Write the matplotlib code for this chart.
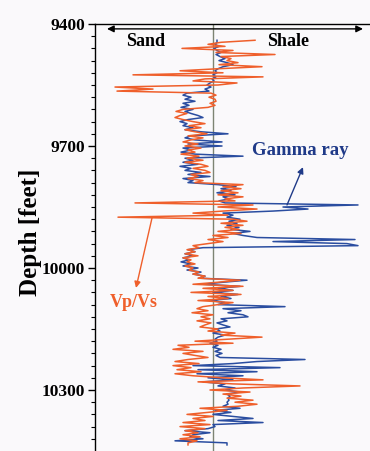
import numpy as np
import matplotlib
matplotlib.use("Agg")
from matplotlib import pyplot as plt
from matplotlib.ticker import FixedLocator

# depth samples (ft) and log deflections from the sand/shale baseline
depth = np.arange(9440, 10440, 5)

vpvs = [
    42, 8, -5, 12, -31, 20, 3, 62, 8, 18,            # 9440
    14, 25, 6, 49, 5, -33, 10, -80, 50, -8,          # 9490
    -20, 24, 5, -98, -60, -96, -2, 3, -4, 2,         # 9540
    3, -3, 2, -5, -30, -37, -26, -33, -38, -30,      # 9590
    -20, -8, -24, -12, -28, -18, -6, -25, -10, -22,  # 9640
    -30, -15, -28, -12, -25, -18, -32, -14, -26, -10,  # 9690
    -28, -12, -5, -20, -8, -3, -22, -15, -25, -10,   # 9740
    -18, 30, 10, 28, 8, 25, 5, 30, 12, 22,           # 9790
    -78, 40, 5, 44, 10, -20, 15, -95, 20, 34,        # 9840
    8, 30, 12, 26, 5, 28, 0, 15, -5, 10,             # 9890
    -5, -20, -14, -26, -18, -28, -15, -30, -22, -26,  # 9940
    -18, -28, -20, -24, -14, -20, -8, -15, 27, 5,    # 9990
    -20, 30, -10, 20, -22, 28, -5, 15, -15, 20,      # 10040
    5, -10, -16, -5, -21, 0, -12, -3, -16, -2,       # 10090
    -8, -13, 5, -5, 22, 8, 49, 15, -18, 20,          # 10140
    -35, -24, -40, -10, -30, -18, -5, -25, -38, -14,  # 10190
    -40, -22, -36, -12, -38, -20, 10, 50, -15, 20,   # 10240
    87, 30, -3, 37, 10, 28, 14, 40, 22, 44,          # 10290
    25, -13, 14, -5, -26, 0, -20, -8, -30, -3,       # 10340
    -33, -8, -28, -15, -30, -13, -33, -16, -25, -25,  # 10390
]

gamma = [
    4, 4, 2, 6, 1, 4, 8, 3, 7, 12,                   # 9440
    6, 14, 20, 10, 5, 2, 4, 0, 3, -1,                # 9490
    1, -3, -6, -2, -8, -4, -26, -30, -22, -28,       # 9540
    -18, -30, -24, -32, -20, -28, -22, -15, -10, -25,  # 9590
    -33, -26, -30, -20, -28, -12, 15, -22, -28, -18,  # 9640
    9, -25, 9, -30, -22, -32, -18, 30, -28, -20,     # 9690
    -30, -15, -33, -22, -28, -12, -25, -3, -30, -20,  # 9740
    -25, 5, 23, 8, 18, 4, 22, 10, 16, 6,             # 9790
    12, 145, 70, 95, 60, 10, 20, 14, 27, 16,         # 9840
    24, 14, 26, 18, 37, 20, 30, 44, 142, 60,         # 9890
    134, 145, -10, -25, -18, -28, -20, -30, -24, -32,  # 9940
    -22, -30, -15, -26, -12, -20, -8, -14, 34, 10,   # 9990
    -10, 27, 5, 20, 0, 25, 8, 18, -3, 12,            # 10040
    5, 72, 10, 28, 15, 30, 35, 8, 14, 4,             # 10090
    10, 17, 3, 7, 0, 12, 5, 2, 4, -3,                # 10140
    5, 0, 8, 2, 9, 3, 7, 92, 44, 20,                 # 10190
    -20, 67, -15, 44, -16, 30, -5, 20, -10, 12,      # 10240
    5, 22, 12, 27, 14, 17, 15, 16, 14, 15,           # 10290
    10, 27, 2, 18, 0, 20, 40, 5, 50, 0,              # 10340
    2, -5, -28, -3, -20, -23, -10, -38, 14, 14,      # 10390
]

tick_depths = [9400, 9700, 10000, 10300]

ORANGE = "#ef5f2b"
BLUE = "#2a4da0"
NAVY = "#1f3a88"
BG = "#faf9fb"

plt.rcParams['font.family'] = ['Liberation Serif', 'DejaVu Serif']

fig = plt.figure(figsize=(3.70, 4.51), dpi=100, facecolor=BG)
ax = fig.add_axes([95 / 370, 0.0, 275 / 370, 427 / 451])
ax.set_facecolor(BG)

ax.set_xlim(-118, 157)
ax.set_ylim(10450, 9400)

ax.axvline(0, color="#7d8473", lw=1.0, zorder=1)

ax.plot(gamma, depth, color=BLUE, lw=1.1, zorder=2)
ax.plot(vpvs, depth, color=ORANGE, lw=1.1, zorder=3)

# spines / ticks
for s in ("right", "bottom"):
    ax.spines[s].set_visible(False)
ax.spines["left"].set_linewidth(1.0)
ax.spines["top"].set_linewidth(1.0)
ax.set_xticks([])
ax.yaxis.set_major_locator(FixedLocator(tick_depths))
ax.yaxis.set_minor_locator(FixedLocator(np.arange(9400, 10450, 30)))
ax.set_yticklabels([str(t) for t in tick_depths], fontsize=12.5, fontweight="bold")
ax.tick_params(axis="y", which="major", direction="out", length=5, width=1.0, pad=2)
ax.tick_params(axis="y", which="minor", direction="out", length=3, width=0.8)

fig.text(30 / 370, 1 - 232 / 451, "Depth [feet]", rotation=90, ha="center",
         va="center", fontsize=18, fontweight="bold")

# sand / shale direction arrow
ax.annotate("", xy=(150, 9412), xytext=(-106, 9412),
            arrowprops=dict(arrowstyle="<|-|>", color="black", lw=1.0,
                            mutation_scale=10, shrinkA=0, shrinkB=0))
ax.text(-67, 9444, "Sand", ha="center", va="center", fontsize=13, fontweight="bold")
ax.text(75, 9444, "Shale", ha="center", va="center", fontsize=13, fontweight="bold")

# curve callouts
ax.text(87, 9710, "Gamma ray", ha="center", va="center", fontsize=13.5,
        fontweight="bold", color=NAVY)
ax.annotate("", xy=(90, 9752), xytext=(74, 9845),
            arrowprops=dict(arrowstyle="-|>", color=NAVY, lw=1.0,
                            mutation_scale=9, shrinkA=0, shrinkB=0))
ax.text(-79, 10084, "Vp/Vs", ha="center", va="center", fontsize=13,
        fontweight="bold", color=ORANGE)
ax.annotate("", xy=(-77, 10049), xytext=(-61, 9877),
            arrowprops=dict(arrowstyle="-|>", color=ORANGE, lw=1.0,
                            mutation_scale=9, shrinkA=0, shrinkB=0))

fig.savefig("out.png", dpi=100, facecolor=BG)
